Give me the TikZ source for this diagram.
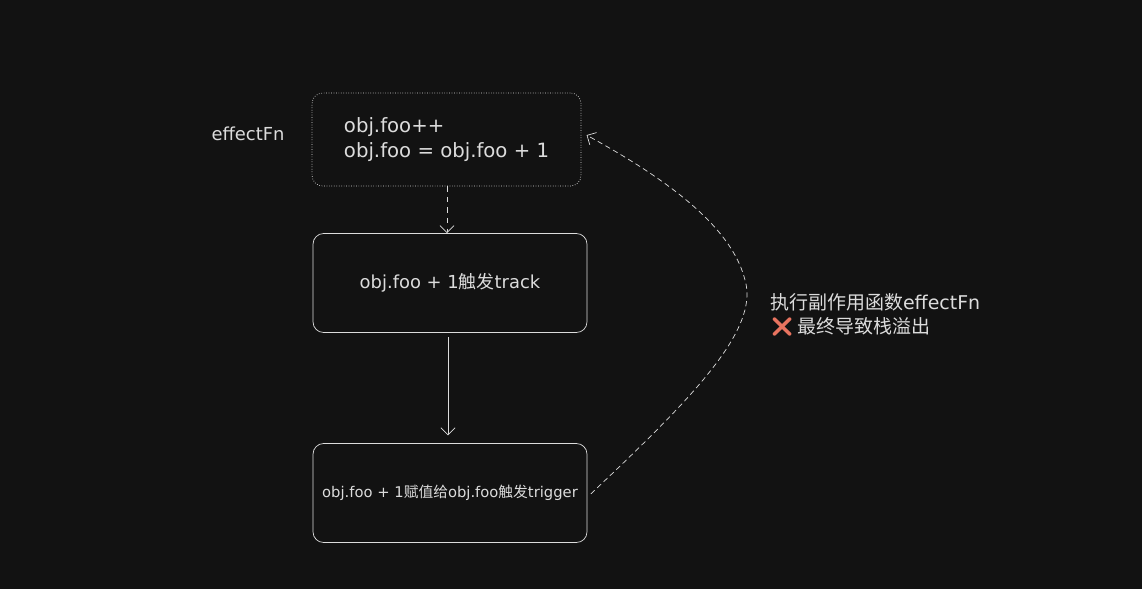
\documentclass[tikz,border=0pt]{standalone}
\usepackage{fontspec}
\setmainfont{DejaVu Sans}
\newfontfamily\cjk{Noto Sans CJK SC}
\newfontfamily\emojifont{Noto Emoji}
\usetikzlibrary{arrows.meta}
\definecolor{bg}{HTML}{121212}
\definecolor{ink}{HTML}{DCDCDC}
\definecolor{cross}{HTML}{E8735F}

\begin{document}
\begin{tikzpicture}[x=0.02cm,y=-0.02cm,
    every node/.style={text=ink,font=\fontsize{10.2}{14}\selectfont},
    box/.style={draw=ink,rounded corners=6pt,minimum width=5.48cm,minimum height=1.98cm}]
    \fill[bg] (0,0) rectangle (1142,589);
    \useasboundingbox (0,0) rectangle (1142,589);
    % boxes
    \node[draw=ink,densely dotted,rounded corners=6pt,minimum width=5.38cm,minimum height=1.86cm,align=left,
      font=\fontsize{11.2}{14.2}\selectfont] (effect) at (446.5,139.5) {obj.foo++\\obj.foo = obj.foo + 1};
    \node at (248,134) (lbl) {effectFn};
    \node[box] (track) at (450,283) {obj.foo + 1{\cjk 触发}track};
    \node[box,font=\fontsize{8.4}{9}\selectfont] (trig) at (450,493) {obj.foo + 1{\cjk 赋值给}obj.foo{\cjk 触发}trigger};
    % arrows
    \draw[ink,dashed,-{Straight Barb[length=4pt]}] (effect.south -| 447,0) -- (track.north -| 447,0);
    \draw[ink,-{Straight Barb[length=4pt]}] ([yshift=-2.3pt]track.south -| 448,0) -- ([yshift=4.5pt]trig.north -| 448,0);
    \draw[ink,densely dashed,-{Straight Barb[length=4pt]}] ([xshift=2pt,yshift=-0.5pt]trig.east)
      .. controls (690,400) and (760,330) .. (745,280)
      .. controls (730,220) and (650,170) .. ([xshift=3pt,yshift=2.5pt]effect.east);
    \node[anchor=west,align=left,font=\fontsize{10.8}{14}\selectfont] (note) at (764,315)
      {{\cjk 执行副作用函数}effectFn\\{\color{cross}\emojifont ❌}\,{\cjk 最终导致栈溢出}};
\end{tikzpicture}
\end{document}
